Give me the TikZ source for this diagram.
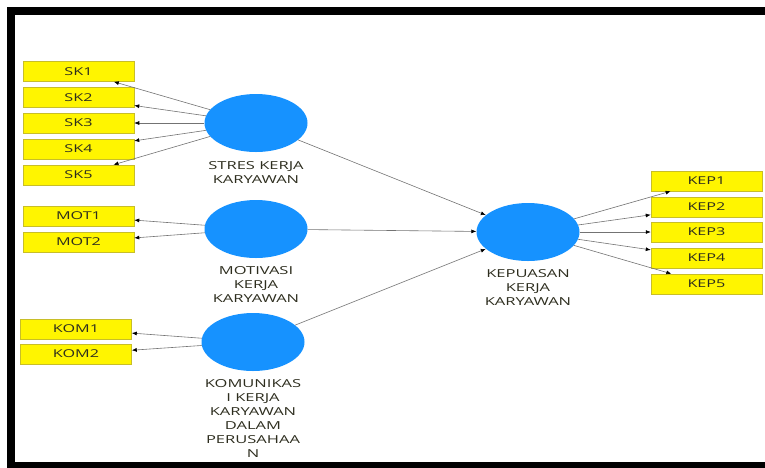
\documentclass[tikz,border=0pt]{standalone}
\usepackage{fontspec}
\setmainfont{Open Sans}[FakeStretch=1.5]
\usetikzlibrary{shapes.geometric,arrows.meta}
\definecolor{lvblue}{RGB}{22,146,255}
\definecolor{mvyellow}{RGB}{255,245,0}
\definecolor{mvline}{RGB}{200,190,40}
\definecolor{txtgray}{RGB}{45,45,30}
\begin{document}
\begin{tikzpicture}[x=1pt, y=-1pt]
        \tikzstyle{lv_node}  = [shape = ellipse, fill = lvblue, minimum width = 103pt, minimum height = 58pt, inner sep = 0pt]
        \tikzstyle{mv_box}   = [shape = rectangle, fill = mvyellow, draw = mvline, line width = 0.5pt, minimum width = 111pt, minimum height = 20pt, inner sep = 0pt, font = \fontsize{10.8}{12}\selectfont, text = txtgray]
        \tikzstyle{lv_label} = [align = center, font = \fontsize{11}{14}\selectfont, text = txtgray]
        \tikzstyle{link}     = [-{Latex[length=5pt, width=4pt, black]}, draw = black!55, line width = 0.6pt]

        \useasboundingbox (0,0) rectangle (765,467);
        \draw[line width = 8pt] (770,11) -- (11,11) -- (11,466) -- (770,466);

        % latent variables
        \node[lv_node] at (256, 123) (sk)  {};
        \node[lv_label] at (256, 172.5) (sk_lbl) {STRES KERJA\\KARYAWAN};

        \node[lv_node] at (256, 229) (mot) {};
        \node[lv_label] at (256, 285) (mot_lbl) {MOTIVASI\\KERJA\\KARYAWAN};

        \node[lv_node] at (253, 342) (kom) {};
        \node[lv_label] at (253, 418) (kom_lbl) {KOMUNIKAS\\I KERJA\\KARYAWAN\\DALAM\\PERUSAHAA\\N};

        \node[lv_node] at (528, 232) (kep) {};
        \node[lv_label] at (528, 288) (kep_lbl) {KEPUASAN\\KERJA\\KARYAWAN};

        % indicators
        \node[mv_box] at (78.5,  71.5) (sk1) {SK1};
        \node[mv_box] at (78.5,  97.5) (sk2) {SK2};
        \node[mv_box] at (78.5, 123.0) (sk3) {SK3};
        \node[mv_box] at (78.5, 149.0) (sk4) {SK4};
        \node[mv_box] at (78.5, 175.0) (sk5) {SK5};

        \node[mv_box] at (78.5, 216.0) (mot1) {MOT1};
        \node[mv_box] at (78.5, 242.0) (mot2) {MOT2};

        \node[mv_box] at (76.0, 329.0) (kom1) {KOM1};
        \node[mv_box] at (76.0, 354.0) (kom2) {KOM2};

        \node[mv_box] at (706.5, 181.0) (kep1) {KEP1};
        \node[mv_box] at (706.5, 207.0) (kep2) {KEP2};
        \node[mv_box] at (706.5, 232.0) (kep3) {KEP3};
        \node[mv_box] at (706.5, 258.0) (kep4) {KEP4};
        \node[mv_box] at (706.5, 284.0) (kep5) {KEP5};

        \draw[link]
          (sk) edge (sk1)
          (sk) edge (sk2)
          (sk) edge (sk3)
          (sk) edge (sk4)
          (sk) edge (sk5)
          (mot) edge (mot1)
          (mot) edge (mot2)
          (kom) edge (kom1)
          (kom) edge (kom2)
        ;

        \draw[link]
          (sk) edge (kep)
          (mot) edge (kep)
          (kom) edge (kep)
        ;

        \draw[link]
          (kep) edge (kep1)
          (kep) edge (kep2)
          (kep) edge (kep3)
          (kep) edge (kep4)
          (kep) edge (kep5)
        ;
      \end{tikzpicture}
\end{document}
